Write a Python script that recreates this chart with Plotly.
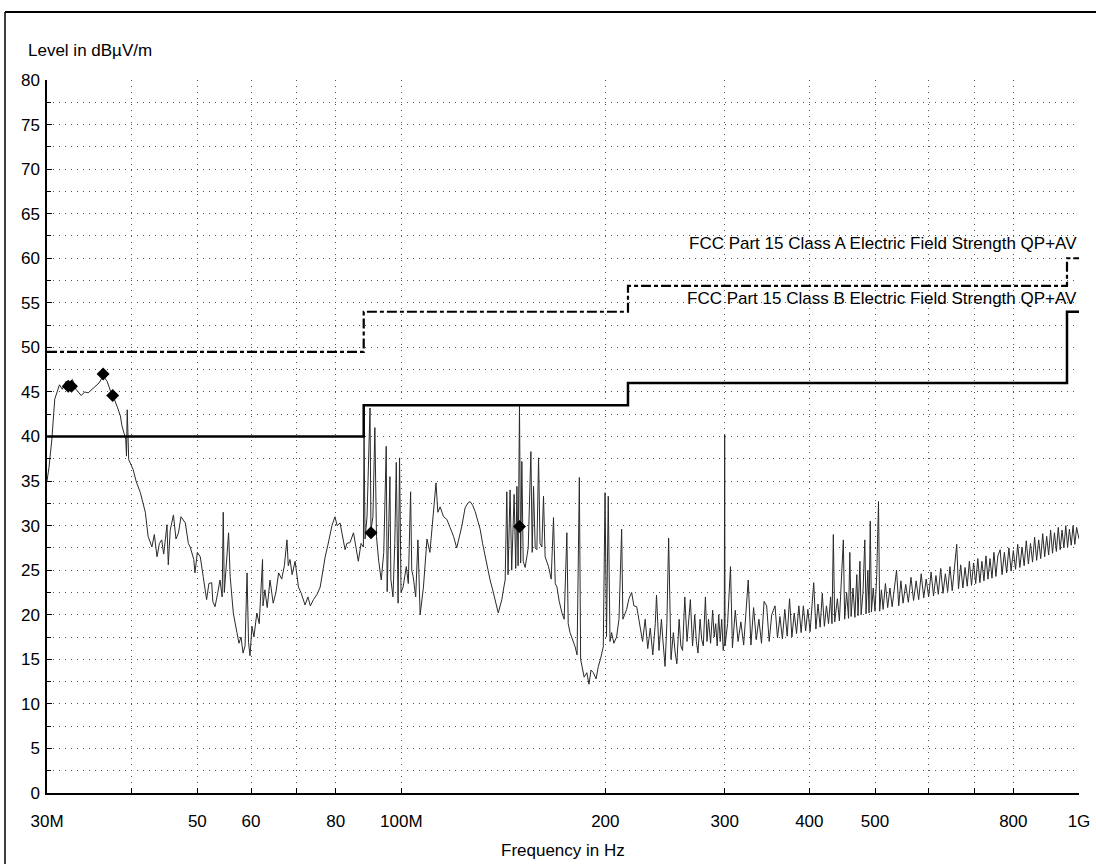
import plotly.graph_objects as go

# ---------------- data ----------------
trace_freq_mhz = [
    30.0, 30.2, 30.5, 30.8, 31.3, 31.6, 32.0, 32.4, 32.7, 33.1,
    33.7, 34.1, 34.5, 35.0, 35.3, 35.8, 36.3, 36.8, 37.3, 37.7,
    38.1, 38.5, 38.7, 39.2, 39.3, 39.4, 39.6, 40.2, 40.6, 41.2,
    41.9, 42.3, 42.85, 43.2, 43.6, 43.95, 44.3, 44.6, 45.1, 45.3,
    45.6, 46.1, 46.5, 46.9, 47.3, 48.0, 48.5, 48.8, 49.4, 49.6,
    50.0, 50.5, 51.0, 51.6, 52.0, 52.5, 52.7, 53.1, 53.6, 54.0,
    54.4, 54.6, 54.8, 55.1, 55.6, 55.9, 56.5, 57.2, 57.6, 58.0,
    58.4, 58.8, 59.2, 59.5, 59.8, 60.2, 60.6, 61.2, 61.7, 62.4,
    62.5, 62.9, 63.4, 64.0, 64.7, 65.3, 65.9, 66.6, 67.2, 67.8,
    68.1, 68.5, 69.0, 69.7, 70.5, 71.1, 72.1, 72.8, 73.4, 74.2,
    75.1, 75.9, 76.4, 77.2, 77.9, 78.5, 79.0, 79.8, 80.4, 81.2,
    82.0, 82.6, 83.1, 84.0, 85.0, 85.8, 86.4, 87.2, 87.9, 88.1,
    88.4, 89.0, 89.9, 90.2, 90.8, 91.4, 91.9, 92.6, 93.4, 94.2,
    95.0, 95.3, 96.2, 96.5, 97.2, 97.8, 98.3, 98.9, 99.4, 99.9,
    100.6, 101.7, 102.4, 103.2, 103.6, 104.1, 105.0, 105.8, 106.6, 107.8,
    109.1, 110.2, 111.3, 112.5, 113.2, 114.1, 115.4, 116.7, 118.0, 119.4,
    120.7, 121.7, 122.8, 124.2, 125.3, 126.3, 127.4, 128.5, 129.6, 130.7,
    131.8, 133.0, 134.1, 135.2, 136.4, 137.5, 139.0, 139.9, 140.7, 141.6,
    142.3, 143.1, 143.7, 144.7, 145.5, 146.7, 147.5, 148.1, 148.7, 149.4,
    150.0, 150.6, 151.3, 152.3, 153.9, 155.3, 156.0, 156.7, 157.6, 158.5,
    159.4, 160.2, 161.2, 162.1, 163.0, 164.9, 166.4, 167.7, 168.7, 169.7,
    171.0, 172.6, 173.9, 175.5, 176.3, 177.4, 179.0, 180.5, 181.7, 183.1,
    183.9, 184.6, 186.1, 187.8, 189.2, 190.5, 192.0, 193.8, 195.3, 196.7,
    198.6, 199.8, 200.8, 202.0, 203.2, 204.3, 205.9, 207.8, 209.5, 211.4,
    212.3, 215.0, 216.7, 218.7, 220.4, 222.5, 225.0,
    227.0, 229.0, 231.0, 233.0, 235.0, 237.0, 238.0, 240.0, 242.0, 243.0,
    245.0, 246.5, 248.0, 250.0, 252.0, 253.5, 255.0, 257.0, 258.5, 260.0,
    262.0, 264.0, 265.5, 267.0, 269.0, 271.0, 272.5, 274.0, 276.0, 277.5,
    279.0, 281.0, 282.5, 284.0, 286.0, 288.0, 289.5, 291.0, 292.5, 294.0,
    295.5, 297.0, 298.5, 299.6, 300.0, 300.4,
    303.0, 306.0, 308.0, 311.0, 314.0, 317.0, 320.0, 323.0, 325.0, 328.0,
    331.0, 334.0, 337.0, 340.0, 343.0, 346.0, 349.0, 352.0, 356.0, 359.0,
    362.0, 365.0, 368.0, 371.0, 374.0, 377.0, 380.0, 383.0, 386.0, 389.0,
    392.0, 395.0, 398.0, 401.0, 404.0, 406.0, 409.0, 412.0, 415.0, 418.0,
    421.0, 424.0, 427.0, 430.0, 432.0, 434.0, 436.0, 440.0, 443.0, 446.0,
    449.0, 451.0, 454.0, 457.0, 459.0, 461.0, 464.0, 467.0, 470.0, 472.0,
    475.0, 477.0, 480.0, 483.0, 485.0, 488.0, 490.0, 492.0, 494.0, 497.0,
    500.0, 503.0, 506.0, 508.0, 511.0, 514.0, 518.0, 522.0, 526.0, 530.0,
    534.0, 538.0, 542.0, 546.0, 550.0, 555.0, 560.0, 565.0, 570.0, 575.0,
    580.0, 585.0, 590.0, 595.0, 600.0, 605.0, 610.0, 615.0, 620.0, 625.0,
    630.0, 635.0, 640.0, 645.0, 650.0, 655.0, 660.0, 664.0, 669.0, 674.0,
    679.0, 684.0, 689.0, 694.0, 699.0, 704.0, 709.0, 714.0, 719.0, 724.0,
    729.0, 734.0, 739.0, 744.0, 749.0, 754.0, 759.0, 765.0, 770.0, 776.0,
    782.0, 788.0, 794.0, 800.0, 806.0, 812.0, 818.0, 824.0, 830.0, 836.0,
    842.0, 848.0, 854.0, 860.0, 866.0, 872.0, 878.0, 884.0, 890.0, 896.0,
    902.0, 908.0, 914.0, 920.0, 926.0, 932.0, 938.0, 944.0, 950.0, 956.0,
    962.0, 968.0, 974.0, 980.0, 986.0, 992.0, 1000.0,
]
trace_level_dbuv = [
    35.0, 36.5, 39.7, 44.2, 45.8, 45.3, 46.2, 45.9, 46.4, 45.3,
    44.6, 45.0, 44.9, 45.3, 45.6, 46.0, 46.8, 46.2, 44.9, 44.2,
    43.3, 42.3, 41.2, 39.7, 37.8, 43.0, 37.4, 36.3, 35.0, 33.7,
    31.5, 28.8, 27.6, 29.0, 26.5, 28.0, 28.4, 26.8, 30.1, 25.6,
    29.5, 31.2, 28.5, 29.2, 31.0, 30.3, 28.0, 27.6, 26.2, 24.7,
    27.0, 26.5, 24.3, 21.7, 23.5, 23.6, 21.5, 20.9, 22.5, 23.9,
    22.0, 31.5, 22.5, 25.0, 29.2, 24.3, 20.2, 18.0, 16.8, 17.5,
    15.7, 16.5, 24.7, 16.9, 15.4, 18.7, 17.5, 20.2, 19.0, 26.2,
    21.0, 22.8, 20.8, 23.9, 21.3, 22.5, 24.7, 24.0, 25.5, 28.4,
    25.5, 26.2, 24.5, 26.0, 23.1, 22.5, 21.1, 22.0, 21.0, 21.7,
    22.3, 23.1, 24.5, 26.5, 27.8, 29.2, 30.0, 31.0, 30.0, 30.3,
    28.5, 27.3, 28.0, 28.1, 29.2, 27.5, 26.0, 28.0, 27.6, 40.8,
    28.5, 31.0, 43.2, 29.5, 31.0, 41.0, 28.8, 26.0, 23.9, 27.0,
    38.9, 22.6, 35.5, 24.0, 22.0, 28.0, 37.1, 21.3, 37.6, 22.5,
    23.1, 25.4, 23.5, 33.8, 25.0, 24.3, 22.0, 28.4, 20.0, 23.1,
    28.5, 27.0, 30.5, 34.8, 31.5, 32.1, 31.0, 30.7, 29.8, 28.8,
    27.5, 28.5, 29.9, 32.0, 32.5, 32.7, 32.3, 31.6, 30.6, 29.6,
    28.0, 26.5, 25.2, 23.9, 22.8, 21.7, 20.2, 21.0, 21.7, 23.0,
    23.9, 33.8, 24.5, 34.0, 25.0, 33.5, 25.2, 34.4, 25.5, 43.4,
    25.8, 37.2, 26.0, 25.3, 27.5, 38.3, 27.0, 34.4, 27.5, 27.3,
    37.6, 28.0, 27.6, 33.3, 26.5, 25.4, 24.0, 30.9, 23.5, 23.1,
    21.5, 20.2, 19.5, 29.2, 19.0, 18.0, 17.2, 16.4, 15.5, 35.4,
    15.0, 14.2, 13.0, 13.5, 12.2, 13.8, 13.5, 12.8, 14.2, 15.0,
    16.4, 33.7, 17.5, 33.3, 17.0, 18.0, 16.8, 17.5, 19.5, 29.6,
    19.5, 20.6, 21.8, 22.5, 21.0, 20.9, 18.7,
    17.0, 19.5, 16.2, 18.5, 15.5, 19.0, 22.2, 16.0, 19.5, 17.5,
    14.2, 19.0, 28.6, 15.0, 18.0, 15.8, 14.5, 19.5, 16.5, 16.0,
    22.0, 17.0, 20.0, 21.7, 16.5, 20.0, 17.0, 15.7, 19.5, 17.2,
    16.5, 22.0, 17.0, 19.5, 16.8, 20.5, 17.5, 19.0, 16.5, 20.0,
    17.0, 19.5, 16.0, 17.0, 40.2, 16.5,
    19.0, 25.4, 16.3, 20.5, 17.0, 19.2, 16.6, 21.5, 23.9, 16.6,
    20.8, 17.2, 19.5, 16.8, 21.5, 21.0, 17.0, 20.0, 21.0, 17.4,
    19.8, 17.3, 20.6, 17.6, 21.8, 17.5, 20.2, 17.9, 21.0, 18.0,
    21.0, 18.2, 20.6, 18.1, 22.0, 23.6, 18.4, 21.2, 18.6, 22.4,
    18.7, 21.0, 19.0, 22.0, 19.0, 29.0, 19.2, 21.8, 19.3, 24.0,
    28.4, 19.5, 22.5, 19.6, 27.0, 19.8, 23.0, 19.7, 24.5, 19.9,
    26.0, 20.0, 22.5, 28.4, 20.1, 25.0, 20.2, 30.5, 20.3, 23.0,
    20.4, 24.5, 32.7, 20.4, 22.8, 20.6, 23.5, 20.8, 23.0, 20.9,
    22.8, 25.0, 21.0, 23.8, 21.3, 23.4, 21.4, 24.2, 21.6, 23.8,
    21.7, 24.6, 21.9, 24.0, 22.0, 24.8, 22.1, 24.4, 22.3, 25.2,
    22.4, 24.6, 22.6, 25.4, 22.7, 25.1, 27.9, 22.9, 25.6, 23.0,
    25.3, 23.2, 26.0, 23.3, 25.8, 23.5, 26.3, 23.6, 26.0, 23.8,
    26.6, 24.0, 26.3, 24.1, 27.0, 24.3, 26.6, 27.3, 24.5, 27.0,
    24.7, 27.5, 24.9, 27.2, 25.1, 27.9, 25.3, 27.6, 25.5, 28.3,
    25.7, 28.0, 25.9, 28.7, 26.1, 28.4, 26.3, 29.1, 26.5, 28.8,
    26.7, 29.5, 26.9, 29.2, 27.1, 29.8, 27.3, 29.5, 27.5, 30.0,
    27.6, 29.6, 27.8, 30.0, 27.9, 29.8, 28.5,
]
assert len(trace_freq_mhz) == len(trace_level_dbuv)

marker_freq_mhz = [32.25, 32.6, 36.3, 37.5, 90.2, 149.4]
marker_level_dbuv = [45.65, 45.65, 47.0, 44.6, 29.2, 29.9]

limit_freq_mhz = [30, 88, 216, 960, 1000]
class_a_level = [49.5, 54.0, 56.9, 60.0, 60.0]
class_b_level = [40.0, 43.5, 46.0, 54.0, 54.0]
class_a_label = "FCC Part 15 Class A Electric Field Strength QP+AV"
class_b_label = "FCC Part 15 Class B Electric Field Strength QP+AV"

x_tick_vals = [30, 40, 50, 60, 70, 80, 100, 200, 300, 400, 500, 600, 700, 800, 1000]
x_tick_text = ["30M", "", "50", "60", "", "80", "100M", "200", "300", "400", "500", "", "", "800", "1G"]
y_tick_vals = list(range(0, 81, 5))

# ---------------- figure ----------------
FONT = "Liberation Sans, Arial, sans-serif"
W, H = 1096, 864
ML, MR, MT, MB = 47, 17, 80, 71
PW, PH = W - ML - MR, H - MT - MB

fig = go.Figure()

fig.add_trace(go.Scatter(
    x=trace_freq_mhz, y=trace_level_dbuv, mode="lines",
    line=dict(color="#2a2a2a", width=1), hoverinfo="skip", showlegend=False,
))
fig.add_trace(go.Scatter(
    x=limit_freq_mhz, y=class_a_level, mode="lines", line_shape="hv",
    line=dict(color="black", width=2.2, dash="10px,3px,4px,3px"), showlegend=False,
))
fig.add_trace(go.Scatter(
    x=limit_freq_mhz, y=class_b_level, mode="lines", line_shape="hv",
    line=dict(color="black", width=2.5), showlegend=False,
))
fig.add_trace(go.Scatter(
    x=marker_freq_mhz, y=marker_level_dbuv, mode="markers",
    marker=dict(symbol="diamond", size=10, color="black"), showlegend=False,
))

grid = dict(gridcolor="#555", gridwidth=1, griddash="1px,5px")

fig.update_xaxes(
    type="log", range=[1.4771213, 3.0], automargin=False,
    tickvals=x_tick_vals, ticktext=x_tick_text,
    ticks="inside", ticklen=5, tickcolor="black", tickwidth=1,
    showline=True, linecolor="black", linewidth=1.5, mirror=False,
    showgrid=True, **grid, zeroline=False,
    tickfont=dict(family=FONT, size=17, color="black"),
    ticklabelstandoff=12,
)
fig.update_yaxes(
    range=[0, 80], tickvals=y_tick_vals, automargin=False,
    ticks="inside", ticklen=5, tickcolor="black", tickwidth=1,
    showline=True, linecolor="black", linewidth=1.5,
    showgrid=True, **grid, zeroline=False,
    minor=dict(dtick=2.5, ticks="inside", ticklen=4, tickcolor="black",
               showgrid=True, gridcolor="#555", gridwidth=1, griddash="1px,5px"),
    tickfont=dict(family=FONT, size=17, color="black"),
    ticklabelstandoff=2,
)

fig.add_annotation(text=class_a_label, xref="paper", x=1.0, xanchor="right",
                   yref="y", y=61.7, yanchor="middle", showarrow=False,
                   font=dict(family=FONT, size=17, color="black"))
fig.add_annotation(text=class_b_label, xref="paper", x=1.0, xanchor="right",
                   yref="y", y=55.5, yanchor="middle", showarrow=False,
                   font=dict(family=FONT, size=17, color="black"))
fig.add_annotation(text="Level in dBµV/m", xref="paper", x=(26 - ML) / PW, xanchor="left",
                   yref="paper", y=(H - MB - 50) / PH, yanchor="middle", showarrow=False,
                   font=dict(family=FONT, size=17, color="black"))
fig.add_annotation(text="Frequency in Hz", xref="paper", x=0.5, xanchor="center",
                   yref="paper", y=(H - MB - 850) / PH, yanchor="middle", showarrow=False,
                   font=dict(family=FONT, size=17, color="black"))

# scanned page frame (top and left edges)
fx0 = (5 - ML) / PW
fy_top = (H - MB - 12) / PH
fig.add_shape(type="line", xref="paper", yref="paper", x0=fx0, x1=(W - ML) / PW,
              y0=fy_top, y1=fy_top, line=dict(color="black", width=2))
fig.add_shape(type="line", xref="paper", yref="paper", x0=fx0, x1=fx0,
              y0=fy_top, y1=(H - MB - H) / PH, line=dict(color="black", width=1.5))

fig.update_layout(
    width=W, height=H,
    margin=dict(l=ML, r=MR, t=MT, b=MB, autoexpand=False),
    paper_bgcolor="white", plot_bgcolor="white",
    font=dict(family=FONT, color="black"),
    showlegend=False,
)

fig.write_html("out.html")
